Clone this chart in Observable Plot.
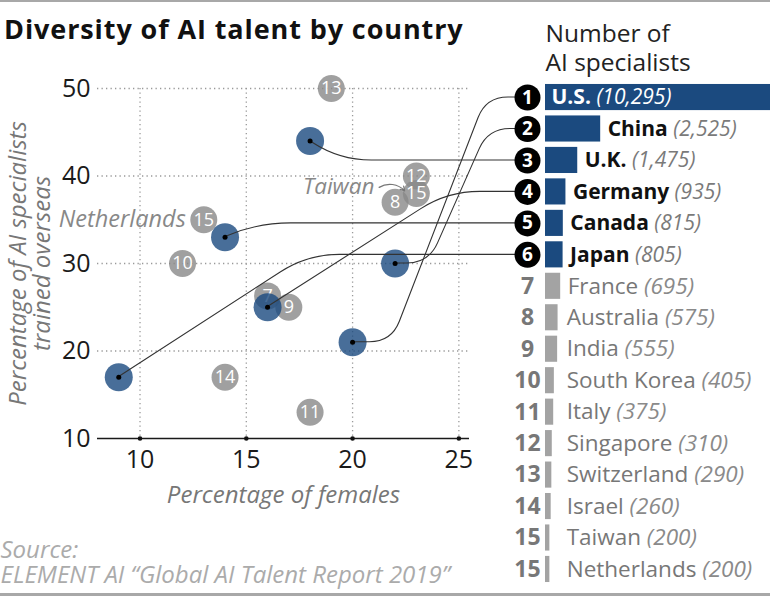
<!DOCTYPE html>
<html>
<head>
<meta charset="utf-8">
<script src="https://cdn.jsdelivr.net/npm/d3@7"></script>
<script src="https://cdn.jsdelivr.net/npm/@observablehq/plot@0.6"></script>
<style>
  body { margin: 0; background: #fff; font-family: "Open Sans", Lato, sans-serif; }
  #wrap { position: relative; width: 770px; height: 596px; overflow: hidden; background: #fff; }
  #wrap svg { position: absolute; left: 0; top: 0; }
  .rule { position: absolute; left: 0; width: 770px; background: #a8a8a8; }
  .title { position: absolute; left: 4px; top: 13.5px; font-size: 27px; line-height: 30px; font-weight: 700; letter-spacing: 0.9px; color: #111; white-space: nowrap; }
</style>
</head>
<body>
<div id="wrap">
  <div class="rule" style="top:0;height:2px"></div>
  <div class="rule" style="top:593px;height:3px"></div>
  <div class="title">Diversity of AI talent by country</div>
</div>
<script>
// ---- data ----
const countries = ["U.S.", "China", "U.K.", "Germany", "Canada", "Japan", "France", "Australia", "India", "South Korea", "Italy", "Singapore", "Switzerland", "Israel", "Taiwan", "Netherlands"];
const rankLabels = ["1", "2", "3", "4", "5", "6", "7", "8", "9", "10", "11", "12", "13", "14", "15", "15"];
const specialists = [10295, 2525, 1475, 935, 815, 805, 695, 575, 555, 405, 375, 310, 290, 260, 200, 200];
const femalePct = [20, 22, 18, 16, 14, 9, 16, 22, 17, 12, 18, 23, 19, 14, 23, 13];
const overseasPct = [21, 30, 44, 25, 33, 17, 26.3, 37, 25, 30, 13, 40, 50, 17, 38, 35];
const xTicks = [10, 15, 20, 25];
const yTicks = [10, 20, 30, 40, 50];
const leaderCount = 6;
const panelTitle = "Number of\nAI specialists";
const sourceNote = "Source:\nELEMENT AI “Global AI Talent Report 2019”";
// connector routing, in "% of females" units: [initial horizontal run, x where the line levels off]
const connectorBends = [[1.85, 26.3], [1.6, 26.4], [0, 19.4], [0, 24.5], [0, 15.6], [0, 17.9]];
// Taiwan annotation arrow (data units)
const taiwanArrow = [{x1: 21.25, y1: 38.7, x2: 22.45, y2: 38.3}];

// ---- table built from the arrays ----
const rows = countries.map((name, i) => ({
  key: name, name, rank: rankLabels[i], value: specialists[i],
  female: femalePct[i], overseas: overseasPct[i], i
}));
const leaders = rows.slice(0, leaderCount);
const others = rows.slice(leaderCount);
const font = "'Open Sans', Lato, sans-serif";
const fmt = d3.format(",");
const badgeDx = -18;

// ---- right panel: bars ----
const bars = Plot.plot({
  width: 770, height: 596,
  marginLeft: 545, marginRight: 0, marginTop: 81.3, marginBottom: 11.3,
  x: {domain: [0, d3.max(specialists)], axis: null},
  y: {domain: countries, axis: null, paddingInner: 0.17, paddingOuter: 0.085, round: false},
  style: {fontFamily: font, background: "transparent", overflow: "visible"},
  marks: [
    Plot.text([panelTitle], {frameAnchor: "top-left", textAnchor: "start", lineAnchor: "middle", dy: -34.6, fontSize: 24.5, lineHeight: 29 / 24.5, fill: "#222"}),
    Plot.barX(leaders, {x: "value", y: "key", fill: "#1b4a7f"}),
    Plot.barX(others, {x: "value", y: "key", fill: "#a3a3a3"}),
    Plot.dot(leaders, {x: () => 0, y: "key", r: 13, fill: "#000", dx: badgeDx}),
    Plot.text(leaders, {x: () => 0, y: "key", text: "rank", dx: badgeDx, fill: "#fff", fontWeight: "bold", fontSize: 19}),
    Plot.text(others, {x: () => 0, y: "key", text: "rank", dx: badgeDx, fill: "#777", fontWeight: "bold", fontSize: 23}),
    Plot.text(leaders.slice(0, 1), {x: () => 0, y: "key", text: "name", textAnchor: "start", dx: 6, fill: "#fff", fontWeight: "bold", fontSize: 21}),
    Plot.text(leaders.slice(1), {x: "value", y: "key", text: "name", textAnchor: "start", dx: 7, fill: "#111", fontWeight: "bold", fontSize: 21}),
    Plot.text(others, {x: d => Math.max(d.value, 650), y: "key", text: "name", textAnchor: "start", dx: 7, fill: "#777", fontSize: 22.5})
  ]
});
// add the italic "(value)" after each country name
d3.select(bars).selectAll("text").each(function () {
  const row = rows.find(d => d.name === this.textContent);
  if (!row) return;
  const color = row.i === 0 ? "#fff" : row.i < leaderCount ? "#7a7a7a" : "#8a8a8a";
  d3.select(this).append("tspan")
    .attr("font-style", "italic").attr("font-weight", "normal").attr("fill", color)
    .text(` (${fmt(row.value)})`);
});

// scales of the bar panel, used to end the connectors at the badges
const by = bars.scale("y");
const band = d3.scaleBand().domain(by.domain).range(by.range)
  .paddingInner(by.paddingInner ?? 0.17).paddingOuter(by.paddingOuter ?? 0.085).align(by.align ?? 0.5);
const bx = bars.scale("x");
const badgeX = d3.scaleLinear().domain(bx.domain).range(bx.range)(0) + badgeDx;

function roundedPath(pts, r) {
  let d = `M${pts[0][0]},${pts[0][1]}`;
  for (let i = 1; i < pts.length - 1; i++) {
    const [px, py] = pts[i - 1], [vx, vy] = pts[i], [nx, ny] = pts[i + 1];
    const l1 = Math.hypot(vx - px, vy - py), l2 = Math.hypot(nx - vx, ny - vy);
    const r1 = Math.min(r, i === 1 ? l1 : l1 / 2);
    const r2 = Math.min(r, i === pts.length - 2 ? l2 : l2 / 2);
    const ax = vx - (vx - px) / l1 * r1, ay = vy - (vy - py) / l1 * r1;
    const cx = vx + (nx - vx) / l2 * r2, cy = vy + (ny - vy) / l2 * r2;
    d += `L${ax},${ay}Q${vx},${vy} ${cx},${cy}`;
  }
  const last = pts[pts.length - 1];
  return d + `L${last[0]},${last[1]}`;
}

function connectors(index, scales) {
  const g = d3.create("svg:g").attr("fill", "none").attr("stroke", "#333").attr("stroke-width", 1.1);
  leaders.forEach((d, j) => {
    const x0 = scales.x(d.female), y0 = scales.y(d.overseas);
    const [run, bend] = connectorBends[j];
    const y1 = band(d.key) + band.bandwidth() / 2;
    const pts = [[x0, y0]];
    if (run > 0) pts.push([scales.x(d.female + run), y0]);
    pts.push([scales.x(bend), y1]);
    pts.push([badgeX, y1]);
    g.append("path").attr("d", roundedPath(pts, run > 0 ? 22 : 32));
  });
  return g.node();
}

const grid = {stroke: "#999", strokeOpacity: 1, strokeWidth: 1.3, strokeDasharray: "1.3 3.2"};
const scatter = Plot.plot({
  width: 770, height: 596,
  marginTop: 88, marginBottom: 158, marginLeft: 97, marginRight: 301,
  x: {domain: [8, 25.5]},
  y: {domain: [10, 50]},
  style: {fontFamily: font, background: "transparent", overflow: "visible"},
  marks: [
    Plot.gridX({ticks: xTicks, ...grid}),
    Plot.gridY({ticks: yTicks.slice(1), ...grid}),
    Plot.axisY({ticks: yTicks, tickSize: 0, tickPadding: 7, fontSize: 25, color: "#1a1a1a", label: null}),
    Plot.axisX({ticks: xTicks, tickSize: 0, tickPadding: 12, fontSize: 25, color: "#1a1a1a", label: null}),
    Plot.ruleY([10], {stroke: "#1a1a1a", strokeWidth: 1.3}),
    Plot.dot(xTicks, {x: d => d, y: () => 10, r: 2.3, fill: "#111"}),
    Plot.text(["Percentage of females"], {frameAnchor: "bottom", textAnchor: "middle", dy: 64, fontSize: 24, fontStyle: "italic", fill: "#777"}),
    Plot.text(["Percentage of AI specialists\ntrained overseas"], {frameAnchor: "left", textAnchor: "middle", lineAnchor: "middle", dx: -66.7, rotate: -90, fontSize: 24, lineHeight: 1.0, fontStyle: "italic", fill: "#777"}),
    Plot.text([sourceNote], {frameAnchor: "bottom-left", textAnchor: "start", lineAnchor: "middle", dx: -97, dy: 123.8, fontSize: 24, lineHeight: 25 / 24, fontStyle: "italic", fill: "#ababab"}),
    Plot.dot(others, {x: "female", y: "overseas", r: 13.5, fill: "#888", fillOpacity: 0.8}),
    Plot.text(others, {x: "female", y: "overseas", text: "rank", fill: "#fff", fontSize: 18}),
    Plot.dot(leaders, {x: "female", y: "overseas", r: 14, fill: "#1a4a80", fillOpacity: 0.8}),
    connectors,
    Plot.dot(leaders, {x: "female", y: "overseas", r: 2.5, fill: "#000"}),
    Plot.text(rows.filter(d => d.name === "Netherlands"), {x: "female", y: "overseas", text: "name", textAnchor: "end", dx: -18, fontSize: 23.5, fontStyle: "italic", fill: "#888"}),
    Plot.text(rows.filter(d => d.name === "Taiwan"), {x: "female", y: "overseas", text: "name", textAnchor: "end", dx: -42, dy: -7, fontSize: 22.5, fontStyle: "italic", fill: "#888"}),
    Plot.arrow(taiwanArrow, {x1: "x1", y1: "y1", x2: "x2", y2: "y2", bend: 40, headLength: 6, stroke: "#777", strokeWidth: 1.2})
  ]
});

const wrap = document.getElementById("wrap");
wrap.insertBefore(scatter, wrap.querySelector(".title"));
wrap.appendChild(bars);
</script>
</body>
</html>
